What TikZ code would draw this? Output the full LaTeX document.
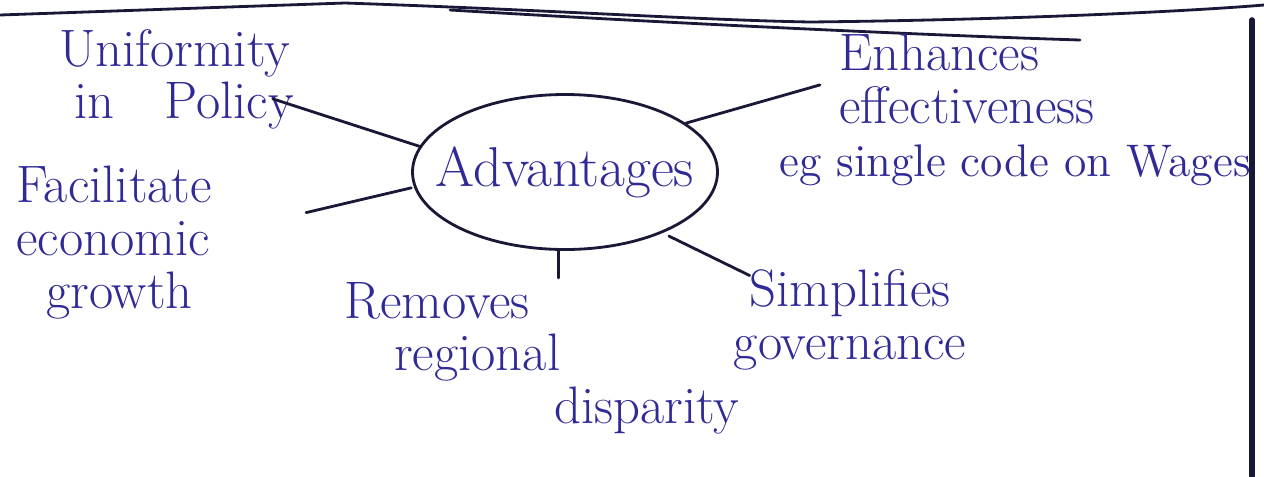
\documentclass[tikz,border=0pt]{standalone}
\usepackage{tikz}
\usetikzlibrary{
    shapes.geometric,
    positioning
}
\definecolor{ink}{RGB}{48,42,150}
\definecolor{pen}{RGB}{25,25,55}
\tikzset{
    idea/.style={
        text=ink,
        align=left,
        inner sep=1pt,
        font=\fontsize{15}{15}\selectfont
    },
    hub/.style={
        ellipse,
        draw=pen,
        thick,
        minimum width=3.05cm,
        minimum height=1.55cm,
        inner xsep=-0.3cm,
        inner ysep=0pt,
        text=ink,
        font=\fontsize{16}{16}\selectfont
    },
    spoke/.style={
        draw=pen,
        thick,
        line cap=round
    }
}

\begin{document}
\begin{tikzpicture}
    \useasboundingbox (0,0) rectangle (12.64,-4.76);

    % Borde de la hoja
    \draw[spoke] (0,-0.15) .. controls (2,-0.08) .. (3.45,-0.03)
        .. controls (5.5,-0.1) and (7,-0.2) .. (8.1,-0.22)
        .. controls (10,-0.2) and (11.8,-0.12) .. (12.64,-0.05);
    \draw[spoke] (4.5,-0.1) .. controls (7,-0.25) and (9.5,-0.36) .. (10.8,-0.4);
    \draw[spoke, line width=1.6pt] (12.52,-0.2) -- (12.52,-4.76);

    % Centro
    \node[hub] (adv) at (5.65,-1.72) {Advantages};

    % Ideas
    \node[idea, anchor=north west] (uni) at (0.55,-0.25)
        {Uniformity\\\hspace*{0.15cm}in\hspace{0.5cm}Policy};
    \node[idea, anchor=north west] (eff) at (7.75,-0.3)
        {\hspace*{0.6cm}Enhances\\\hspace*{0.6cm}effectiveness\\
         {\fontsize{13}{13}\selectfont eg single code on Wages}};
    \node[idea, anchor=north west] (fac) at (0.12,-1.62)
        {Facilitate\\economic\\\hspace*{0.3cm}growth};
    \node[idea, anchor=north west] (rem) at (3.4,-2.78)
        {Removes\\\hspace*{0.5cm}regional\\\hspace*{2.1cm}disparity};
    \node[idea, align=center] (sim) at (8.5,-3.2)
        {Simplifies\\governance};

    % Conexiones
    \draw[spoke] ([xshift=-0.25cm,yshift=0.35cm]uni.south east) -- (adv.170);
    \draw[spoke] ([xshift=0.45cm,yshift=0.25cm]eff.west) -- (adv.22);
    \draw[spoke] ([xshift=0.9cm,yshift=0.3cm]fac.east) -- ([xshift=-0.03cm]adv.186);
    \draw[spoke] (adv.265) -- (adv.265 |- rem.north);
    \draw[spoke, shorten <=2pt] (adv.-32) -- ([xshift=0.2cm,yshift=-0.1cm]sim.north west);

\end{tikzpicture}
\end{document}
